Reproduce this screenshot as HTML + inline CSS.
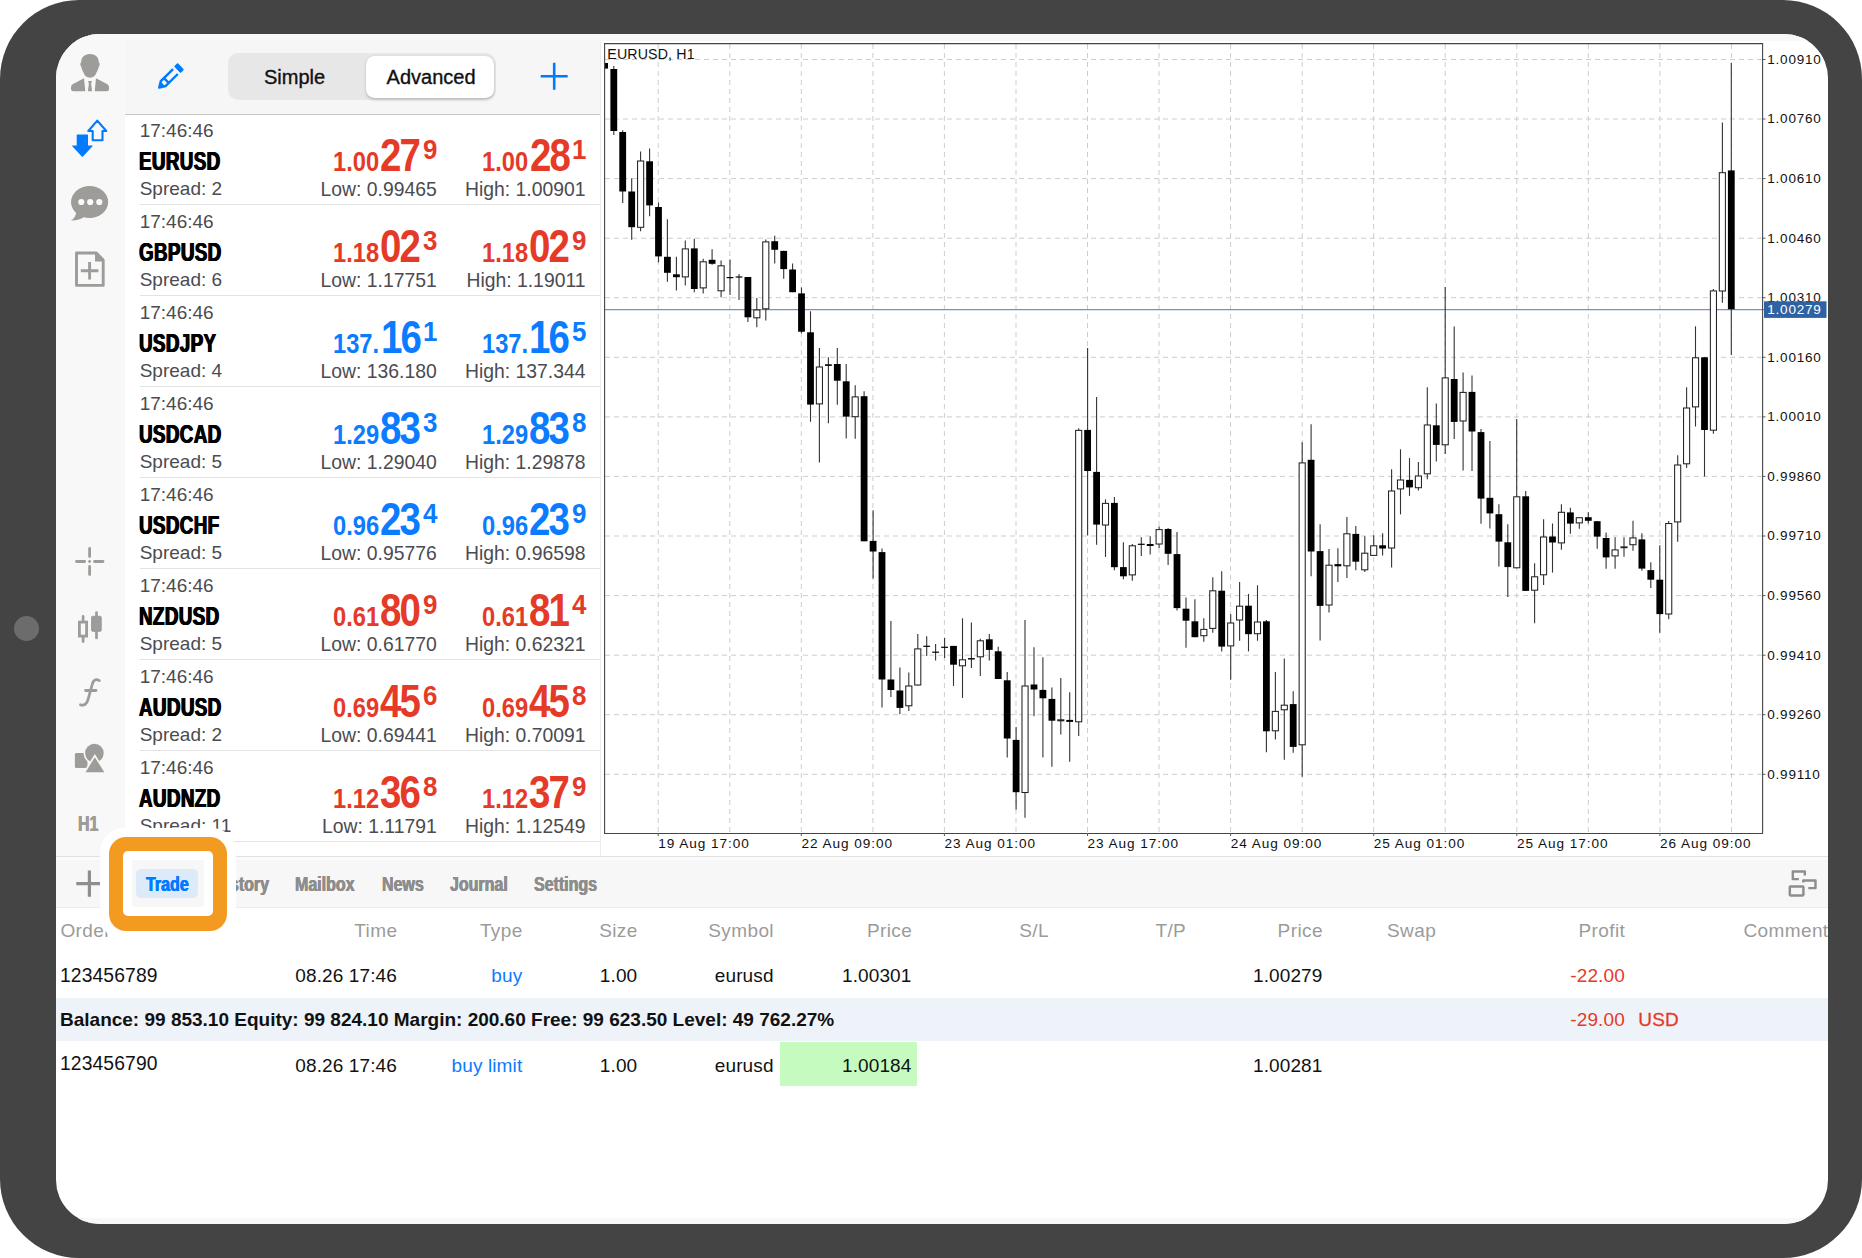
<!DOCTYPE html>
<html lang="en"><head><meta charset="utf-8"><title>MetaTrader 4 - Trade tab</title>
<style>
html,body{margin:0;padding:0;background:#fff;}
body{width:1862px;height:1258px;position:relative;overflow:hidden;font-family:"Liberation Sans",sans-serif;}
.abs{position:absolute;}
#device{position:absolute;left:0;top:0;width:1862px;height:1258px;background:#444;border-radius:79px;}
#cam{position:absolute;left:13.9px;top:615.9px;width:25.6px;height:25.6px;border-radius:50%;background:#6c6c6c;}
#screenbg{position:absolute;left:56px;top:34px;width:1772px;height:1190px;border-radius:44px;background:#fff;}
#screen{position:absolute;left:0;top:0;width:1862px;height:1258px;clip-path:inset(34px 34px 34px 56px round 44px);}
#topstrip{position:absolute;left:56px;top:34px;width:1772px;height:6.6px;background:#f8f8f8;}
#botstrip{position:absolute;left:56px;top:1217.5px;width:1772px;height:7px;background:#f8f8f8;}
#sidebar{position:absolute;left:56px;top:34px;width:69.4px;height:822.3px;background:#f8f8f8;}
#qhead{position:absolute;left:125.4px;top:40px;width:475.6px;height:74.3px;background:#f6f6f6;border-bottom:1px solid #c8c8c8;}
#qborder{position:absolute;left:600.2px;top:40.6px;width:1px;height:816px;background:#ececec;}
#quotes{position:absolute;left:125.4px;top:115px;width:474.8px;height:741.5px;overflow:hidden;background:#fff;}
.qrow{position:absolute;left:0;width:475.6px;height:91px;}
.qrow div{position:absolute;white-space:nowrap;line-height:1;}
.qt,.qsp,.ql{font-size:19px;color:#4b4b50;}
.ql{font-size:19.35px;}
.qt{left:14.3px;top:5.9px;}
.qs{left:13.7px;top:33.7px;letter-spacing:0.5px;font-size:25.4px;font-weight:bold;color:#000;}
.qs i{text-shadow:0.8px 0 0 #000,-0.8px 0 0 #000;}
.qsp{left:14.3px;top:64.4px;}
.ql.low{right:164.3px;top:64.7px;}
.ql.high{right:15.5px;top:64.7px;}
.qsep{left:14.3px;right:0;top:88.7px;height:1px;background:#e3e3e3;}
.cw{display:inline-block;position:relative;height:1em;vertical-align:top;}
.cw>i{position:absolute;left:0;top:0;font-style:normal;transform-origin:0 50%;white-space:nowrap;line-height:1;}
.red{color:#e53a28;} .blu{color:#0b7bff;}
.pp{font-weight:bold;}
#seg{position:absolute;left:228.4px;top:53.2px;width:268px;height:47.3px;border-radius:10px;background:#e7e7e8;}
#segsel{position:absolute;left:137.2px;top:2.6px;width:128.2px;height:42.1px;border-radius:8.5px;background:#fff;box-shadow:0 1.5px 3px rgba(0,0,0,.18),0 0 1px rgba(0,0,0,.1);}
#segl1,#segl2{position:absolute;top:13.9px;font-size:20px;line-height:1;color:#111;-webkit-text-stroke:0.35px #111;white-space:nowrap;}
#segl1{left:35.6px;}
#segl2{left:158.2px;}
#tb1{position:absolute;left:56px;top:856.3px;width:1772px;height:1px;background:#e1e1e1;}
#tb2{position:absolute;left:56px;top:857.3px;width:1772px;height:3px;background:#fbfbfb;}
#toolbar{position:absolute;left:56px;top:860.2px;width:1772px;height:47.2px;background:#f7f7f7;border-bottom:1px solid #ededed;}
.tab{position:absolute;top:874.9px;font-size:19.5px;font-weight:bold;color:#8d8d8d;text-shadow:0.45px 0 0 #8d8d8d,-0.45px 0 0 #8d8d8d;line-height:1;white-space:nowrap;}
#pill{position:absolute;left:136.1px;top:868.8px;width:62.2px;height:29.1px;border-radius:5px;background:#ddeafa;}
.th{position:absolute;top:921.4px;font-size:19px;line-height:1;color:#9b9b9b;white-space:nowrap;letter-spacing:0.4px;margin-left:0.4px;}
.td{position:absolute;font-size:19px;line-height:1;color:#111;white-space:nowrap;letter-spacing:0.12px;}
.r{transform:translateX(-100%);}
#balrow{position:absolute;left:56px;top:997.7px;width:1772px;height:43.5px;background:#eef3f9;}
#green{position:absolute;left:780px;top:1042.3px;width:137.3px;height:43.7px;background:#c5fbbf;}
#glow{position:absolute;left:99.8px;top:827.8px;width:136.6px;height:112.5px;border-radius:24px;background:#fff;}
#orange{position:absolute;left:108.6px;top:836.6px;width:118.9px;height:94.6px;border-radius:17px;background:#f39a21;}
#owhite{position:absolute;left:123.4px;top:851.4px;width:89.3px;height:64.9px;border-radius:5px;background:#fff;}
#owin{position:absolute;left:132.1px;top:860.2px;width:71.8px;height:47.3px;background:#f7f7f7;}

</style></head>
<body>
<div id="device"></div>
<div id="cam"></div>
<div id="screenbg"></div>
<div id="screen">
<div id="topstrip"></div>
<div id="sidebar"></div>
<div id="qhead"></div><div id="qborder"></div>
<div id="quotes">
<div class="qrow" style="top:0px"><div class="qt">17:46:46</div><div class="qs"><span class="cw" style="width:79.37px;font-size:25.4px;"><i style="transform:scaleX(0.74)">EURUSD</i></span></div><div class="qsp">Spread: 2</div><div class="pp red" style="left:297.47px;top:20.58px;font-size:27.9px;width:14.43px;height:27.9px"><i style="position:absolute;left:0;top:0;font-style:normal;transform-origin:0 50%;transform:scaleX(0.93);line-height:1;">9</i></div><div class="pp red" style="left:254.56px;top:18.13px;font-size:45.8px;width:42.79px;height:45.8px"><i style="position:absolute;left:0;top:0;font-style:normal;transform-origin:0 50%;transform:scaleX(0.84);line-height:1;letter-spacing:-2.3px;">27</i></div><div class="pp red" style="left:207.50px;top:32.98px;font-size:27.9px;width:46.16px;height:27.9px"><i style="position:absolute;left:0;top:0;font-style:normal;transform-origin:0 50%;transform:scaleX(0.85);line-height:1;">1.00</i></div><div class="pp red" style="left:446.17px;top:20.58px;font-size:27.9px;width:14.43px;height:27.9px"><i style="position:absolute;left:0;top:0;font-style:normal;transform-origin:0 50%;transform:scaleX(0.93);line-height:1;">1</i></div><div class="pp red" style="left:404.76px;top:18.13px;font-size:45.8px;width:42.79px;height:45.8px"><i style="position:absolute;left:0;top:0;font-style:normal;transform-origin:0 50%;transform:scaleX(0.84);line-height:1;letter-spacing:-2.3px;">28</i></div><div class="pp red" style="left:356.20px;top:32.98px;font-size:27.9px;width:46.16px;height:27.9px"><i style="position:absolute;left:0;top:0;font-style:normal;transform-origin:0 50%;transform:scaleX(0.85);line-height:1;">1.00</i></div><div class="ql low">Low: 0.99465</div><div class="ql high">High: 1.00901</div><div class="qsep"></div></div>
<div class="qrow" style="top:91px"><div class="qt">17:46:46</div><div class="qs"><span class="cw" style="width:80.42px;font-size:25.4px;"><i style="transform:scaleX(0.74)">GBPUSD</i></span></div><div class="qsp">Spread: 6</div><div class="pp red" style="left:297.47px;top:20.58px;font-size:27.9px;width:14.43px;height:27.9px"><i style="position:absolute;left:0;top:0;font-style:normal;transform-origin:0 50%;transform:scaleX(0.93);line-height:1;">3</i></div><div class="pp red" style="left:254.56px;top:18.13px;font-size:45.8px;width:42.79px;height:45.8px"><i style="position:absolute;left:0;top:0;font-style:normal;transform-origin:0 50%;transform:scaleX(0.84);line-height:1;letter-spacing:-2.3px;">02</i></div><div class="pp red" style="left:207.50px;top:32.98px;font-size:27.9px;width:46.16px;height:27.9px"><i style="position:absolute;left:0;top:0;font-style:normal;transform-origin:0 50%;transform:scaleX(0.85);line-height:1;">1.18</i></div><div class="pp red" style="left:446.17px;top:20.58px;font-size:27.9px;width:14.43px;height:27.9px"><i style="position:absolute;left:0;top:0;font-style:normal;transform-origin:0 50%;transform:scaleX(0.93);line-height:1;">9</i></div><div class="pp red" style="left:403.26px;top:18.13px;font-size:45.8px;width:42.79px;height:45.8px"><i style="position:absolute;left:0;top:0;font-style:normal;transform-origin:0 50%;transform:scaleX(0.84);line-height:1;letter-spacing:-2.3px;">02</i></div><div class="pp red" style="left:356.20px;top:32.98px;font-size:27.9px;width:46.16px;height:27.9px"><i style="position:absolute;left:0;top:0;font-style:normal;transform-origin:0 50%;transform:scaleX(0.85);line-height:1;">1.18</i></div><div class="ql low">Low: 1.17751</div><div class="ql high">High: 1.19011</div><div class="qsep"></div></div>
<div class="qrow" style="top:182px"><div class="qt">17:46:46</div><div class="qs"><span class="cw" style="width:75.21px;font-size:25.4px;"><i style="transform:scaleX(0.74)">USDJPY</i></span></div><div class="qsp">Spread: 4</div><div class="pp blu" style="left:297.47px;top:20.58px;font-size:27.9px;width:14.43px;height:27.9px"><i style="position:absolute;left:0;top:0;font-style:normal;transform-origin:0 50%;transform:scaleX(0.93);line-height:1;">1</i></div><div class="pp blu" style="left:256.06px;top:18.13px;font-size:45.8px;width:42.79px;height:45.8px"><i style="position:absolute;left:0;top:0;font-style:normal;transform-origin:0 50%;transform:scaleX(0.84);line-height:1;letter-spacing:-2.3px;">16</i></div><div class="pp blu" style="left:207.50px;top:32.98px;font-size:27.9px;width:46.16px;height:27.9px"><i style="position:absolute;left:0;top:0;font-style:normal;transform-origin:0 50%;transform:scaleX(0.85);line-height:1;">137.</i></div><div class="pp blu" style="left:446.17px;top:20.58px;font-size:27.9px;width:14.43px;height:27.9px"><i style="position:absolute;left:0;top:0;font-style:normal;transform-origin:0 50%;transform:scaleX(0.93);line-height:1;">5</i></div><div class="pp blu" style="left:403.26px;top:18.13px;font-size:45.8px;width:42.79px;height:45.8px"><i style="position:absolute;left:0;top:0;font-style:normal;transform-origin:0 50%;transform:scaleX(0.84);line-height:1;letter-spacing:-2.3px;">16</i></div><div class="pp blu" style="left:356.20px;top:32.98px;font-size:27.9px;width:46.16px;height:27.9px"><i style="position:absolute;left:0;top:0;font-style:normal;transform-origin:0 50%;transform:scaleX(0.85);line-height:1;">137.</i></div><div class="ql low">Low: 136.180</div><div class="ql high">High: 137.344</div><div class="qsep"></div></div>
<div class="qrow" style="top:273px"><div class="qt">17:46:46</div><div class="qs"><span class="cw" style="width:80.41px;font-size:25.4px;"><i style="transform:scaleX(0.74)">USDCAD</i></span></div><div class="qsp">Spread: 5</div><div class="pp blu" style="left:297.47px;top:20.58px;font-size:27.9px;width:14.43px;height:27.9px"><i style="position:absolute;left:0;top:0;font-style:normal;transform-origin:0 50%;transform:scaleX(0.93);line-height:1;">3</i></div><div class="pp blu" style="left:254.56px;top:18.13px;font-size:45.8px;width:42.79px;height:45.8px"><i style="position:absolute;left:0;top:0;font-style:normal;transform-origin:0 50%;transform:scaleX(0.84);line-height:1;letter-spacing:-2.3px;">83</i></div><div class="pp blu" style="left:207.50px;top:32.98px;font-size:27.9px;width:46.16px;height:27.9px"><i style="position:absolute;left:0;top:0;font-style:normal;transform-origin:0 50%;transform:scaleX(0.85);line-height:1;">1.29</i></div><div class="pp blu" style="left:446.17px;top:20.58px;font-size:27.9px;width:14.43px;height:27.9px"><i style="position:absolute;left:0;top:0;font-style:normal;transform-origin:0 50%;transform:scaleX(0.93);line-height:1;">8</i></div><div class="pp blu" style="left:403.26px;top:18.13px;font-size:45.8px;width:42.79px;height:45.8px"><i style="position:absolute;left:0;top:0;font-style:normal;transform-origin:0 50%;transform:scaleX(0.84);line-height:1;letter-spacing:-2.3px;">83</i></div><div class="pp blu" style="left:356.20px;top:32.98px;font-size:27.9px;width:46.16px;height:27.9px"><i style="position:absolute;left:0;top:0;font-style:normal;transform-origin:0 50%;transform:scaleX(0.85);line-height:1;">1.29</i></div><div class="ql low">Low: 1.29040</div><div class="ql high">High: 1.29878</div><div class="qsep"></div></div>
<div class="qrow" style="top:364px"><div class="qt">17:46:46</div><div class="qs"><span class="cw" style="width:78.31px;font-size:25.4px;"><i style="transform:scaleX(0.74)">USDCHF</i></span></div><div class="qsp">Spread: 5</div><div class="pp blu" style="left:297.47px;top:20.58px;font-size:27.9px;width:14.43px;height:27.9px"><i style="position:absolute;left:0;top:0;font-style:normal;transform-origin:0 50%;transform:scaleX(0.93);line-height:1;">4</i></div><div class="pp blu" style="left:254.56px;top:18.13px;font-size:45.8px;width:42.79px;height:45.8px"><i style="position:absolute;left:0;top:0;font-style:normal;transform-origin:0 50%;transform:scaleX(0.84);line-height:1;letter-spacing:-2.3px;">23</i></div><div class="pp blu" style="left:207.50px;top:32.98px;font-size:27.9px;width:46.16px;height:27.9px"><i style="position:absolute;left:0;top:0;font-style:normal;transform-origin:0 50%;transform:scaleX(0.85);line-height:1;">0.96</i></div><div class="pp blu" style="left:446.17px;top:20.58px;font-size:27.9px;width:14.43px;height:27.9px"><i style="position:absolute;left:0;top:0;font-style:normal;transform-origin:0 50%;transform:scaleX(0.93);line-height:1;">9</i></div><div class="pp blu" style="left:403.26px;top:18.13px;font-size:45.8px;width:42.79px;height:45.8px"><i style="position:absolute;left:0;top:0;font-style:normal;transform-origin:0 50%;transform:scaleX(0.84);line-height:1;letter-spacing:-2.3px;">23</i></div><div class="pp blu" style="left:356.20px;top:32.98px;font-size:27.9px;width:46.16px;height:27.9px"><i style="position:absolute;left:0;top:0;font-style:normal;transform-origin:0 50%;transform:scaleX(0.85);line-height:1;">0.96</i></div><div class="ql low">Low: 0.95776</div><div class="ql high">High: 0.96598</div><div class="qsep"></div></div>
<div class="qrow" style="top:455px"><div class="qt">17:46:46</div><div class="qs"><span class="cw" style="width:78.31px;font-size:25.4px;"><i style="transform:scaleX(0.74)">NZDUSD</i></span></div><div class="qsp">Spread: 5</div><div class="pp red" style="left:297.47px;top:20.58px;font-size:27.9px;width:14.43px;height:27.9px"><i style="position:absolute;left:0;top:0;font-style:normal;transform-origin:0 50%;transform:scaleX(0.93);line-height:1;">9</i></div><div class="pp red" style="left:254.56px;top:18.13px;font-size:45.8px;width:42.79px;height:45.8px"><i style="position:absolute;left:0;top:0;font-style:normal;transform-origin:0 50%;transform:scaleX(0.84);line-height:1;letter-spacing:-2.3px;">80</i></div><div class="pp red" style="left:207.50px;top:32.98px;font-size:27.9px;width:46.16px;height:27.9px"><i style="position:absolute;left:0;top:0;font-style:normal;transform-origin:0 50%;transform:scaleX(0.85);line-height:1;">0.61</i></div><div class="pp red" style="left:446.17px;top:20.58px;font-size:27.9px;width:14.43px;height:27.9px"><i style="position:absolute;left:0;top:0;font-style:normal;transform-origin:0 50%;transform:scaleX(0.93);line-height:1;">4</i></div><div class="pp red" style="left:403.26px;top:18.13px;font-size:45.8px;width:42.79px;height:45.8px"><i style="position:absolute;left:0;top:0;font-style:normal;transform-origin:0 50%;transform:scaleX(0.84);line-height:1;letter-spacing:-2.3px;">81</i></div><div class="pp red" style="left:356.20px;top:32.98px;font-size:27.9px;width:46.16px;height:27.9px"><i style="position:absolute;left:0;top:0;font-style:normal;transform-origin:0 50%;transform:scaleX(0.85);line-height:1;">0.61</i></div><div class="ql low">Low: 0.61770</div><div class="ql high">High: 0.62321</div><div class="qsep"></div></div>
<div class="qrow" style="top:546px"><div class="qt">17:46:46</div><div class="qs"><span class="cw" style="width:80.41px;font-size:25.4px;"><i style="transform:scaleX(0.74)">AUDUSD</i></span></div><div class="qsp">Spread: 2</div><div class="pp red" style="left:297.47px;top:20.58px;font-size:27.9px;width:14.43px;height:27.9px"><i style="position:absolute;left:0;top:0;font-style:normal;transform-origin:0 50%;transform:scaleX(0.93);line-height:1;">6</i></div><div class="pp red" style="left:254.56px;top:18.13px;font-size:45.8px;width:42.79px;height:45.8px"><i style="position:absolute;left:0;top:0;font-style:normal;transform-origin:0 50%;transform:scaleX(0.84);line-height:1;letter-spacing:-2.3px;">45</i></div><div class="pp red" style="left:207.50px;top:32.98px;font-size:27.9px;width:46.16px;height:27.9px"><i style="position:absolute;left:0;top:0;font-style:normal;transform-origin:0 50%;transform:scaleX(0.85);line-height:1;">0.69</i></div><div class="pp red" style="left:446.17px;top:20.58px;font-size:27.9px;width:14.43px;height:27.9px"><i style="position:absolute;left:0;top:0;font-style:normal;transform-origin:0 50%;transform:scaleX(0.93);line-height:1;">8</i></div><div class="pp red" style="left:403.26px;top:18.13px;font-size:45.8px;width:42.79px;height:45.8px"><i style="position:absolute;left:0;top:0;font-style:normal;transform-origin:0 50%;transform:scaleX(0.84);line-height:1;letter-spacing:-2.3px;">45</i></div><div class="pp red" style="left:356.20px;top:32.98px;font-size:27.9px;width:46.16px;height:27.9px"><i style="position:absolute;left:0;top:0;font-style:normal;transform-origin:0 50%;transform:scaleX(0.85);line-height:1;">0.69</i></div><div class="ql low">Low: 0.69441</div><div class="ql high">High: 0.70091</div><div class="qsep"></div></div>
<div class="qrow" style="top:637px"><div class="qt">17:46:46</div><div class="qs"><span class="cw" style="width:79.35px;font-size:25.4px;"><i style="transform:scaleX(0.74)">AUDNZD</i></span></div><div class="qsp">Spread: 11</div><div class="pp red" style="left:297.47px;top:20.58px;font-size:27.9px;width:14.43px;height:27.9px"><i style="position:absolute;left:0;top:0;font-style:normal;transform-origin:0 50%;transform:scaleX(0.93);line-height:1;">8</i></div><div class="pp red" style="left:254.56px;top:18.13px;font-size:45.8px;width:42.79px;height:45.8px"><i style="position:absolute;left:0;top:0;font-style:normal;transform-origin:0 50%;transform:scaleX(0.84);line-height:1;letter-spacing:-2.3px;">36</i></div><div class="pp red" style="left:207.50px;top:32.98px;font-size:27.9px;width:46.16px;height:27.9px"><i style="position:absolute;left:0;top:0;font-style:normal;transform-origin:0 50%;transform:scaleX(0.85);line-height:1;">1.12</i></div><div class="pp red" style="left:446.17px;top:20.58px;font-size:27.9px;width:14.43px;height:27.9px"><i style="position:absolute;left:0;top:0;font-style:normal;transform-origin:0 50%;transform:scaleX(0.93);line-height:1;">9</i></div><div class="pp red" style="left:403.26px;top:18.13px;font-size:45.8px;width:42.79px;height:45.8px"><i style="position:absolute;left:0;top:0;font-style:normal;transform-origin:0 50%;transform:scaleX(0.84);line-height:1;letter-spacing:-2.3px;">37</i></div><div class="pp red" style="left:356.20px;top:32.98px;font-size:27.9px;width:46.16px;height:27.9px"><i style="position:absolute;left:0;top:0;font-style:normal;transform-origin:0 50%;transform:scaleX(0.85);line-height:1;">1.12</i></div><div class="ql low">Low: 1.11791</div><div class="ql high">High: 1.12549</div><div class="qsep"></div></div>
</div>
<div id="seg"><div id="segsel"></div><div id="segl1">Simple</div><div id="segl2">Advanced</div></div>
<svg class="abs" style="left:0;top:0" width="1862" height="1258" viewBox="0 0 1862 1258">
<g stroke="#cdcdcd" stroke-width="1" stroke-dasharray="5 4" fill="none">
<path d="M605 59.5H1762"/>
<path d="M605 119.0H1762"/>
<path d="M605 178.6H1762"/>
<path d="M605 238.2H1762"/>
<path d="M605 297.7H1762"/>
<path d="M605 357.3H1762"/>
<path d="M605 416.9H1762"/>
<path d="M605 476.4H1762"/>
<path d="M605 536.0H1762"/>
<path d="M605 595.6H1762"/>
<path d="M605 655.2H1762"/>
<path d="M605 714.7H1762"/>
<path d="M605 774.3H1762"/>
<path d="M658.2 44V833"/>
<path d="M729.8 44V833"/>
<path d="M801.3 44V833"/>
<path d="M872.9 44V833"/>
<path d="M944.4 44V833"/>
<path d="M1016.0 44V833"/>
<path d="M1087.5 44V833"/>
<path d="M1159.0 44V833"/>
<path d="M1230.6 44V833"/>
<path d="M1302.2 44V833"/>
<path d="M1373.7 44V833"/>
<path d="M1445.2 44V833"/>
<path d="M1516.8 44V833"/>
<path d="M1588.3 44V833"/>
<path d="M1659.9 44V833"/>
<path d="M1731.5 44V833"/>
</g>
<path d="M605 309.6H1764" stroke="#6f95c4" stroke-width="1.2"/>
<g fill="#000">
<rect x="605" y="63" width="3" height="5.6"/>
<path d="M613.8 66.0V135.0" stroke="#333" stroke-width="1.1"/>
<rect x="610.4" y="69.0" width="6.8" height="62.0"/>
<path d="M622.7 130.3V203.0" stroke="#333" stroke-width="1.1"/>
<rect x="619.3" y="132.0" width="6.8" height="59.5"/>
<path d="M631.7 178.3V239.8" stroke="#333" stroke-width="1.1"/>
<rect x="628.3" y="191.5" width="6.8" height="35.7"/>
<path d="M640.6 151.5V231.2" stroke="#333" stroke-width="1.1"/>
<rect x="637.57" y="161.0" width="6.1" height="66.3" fill="#fff" stroke="#222" stroke-width="1.05"/>
<path d="M649.6 148.5V216.2" stroke="#333" stroke-width="1.1"/>
<rect x="646.2" y="161.3" width="6.8" height="44.1"/>
<path d="M658.5 202.4V262.4" stroke="#333" stroke-width="1.1"/>
<rect x="655.1" y="207.0" width="6.8" height="49.4"/>
<path d="M667.4 219.2V281.8" stroke="#333" stroke-width="1.1"/>
<rect x="664.0" y="256.8" width="6.8" height="16.0"/>
<path d="M676.4 256.8V290.5" stroke="#333" stroke-width="1.1"/>
<rect x="673.0" y="274.3" width="6.8" height="2.9"/>
<path d="M685.3 240.4V285.5" stroke="#333" stroke-width="1.1"/>
<rect x="682.27" y="248.9" width="6.1" height="28.0" fill="#fff" stroke="#222" stroke-width="1.05"/>
<path d="M694.3 238.8V292.3" stroke="#333" stroke-width="1.1"/>
<rect x="690.9" y="248.4" width="6.8" height="40.6"/>
<path d="M703.2 258.8V293.5" stroke="#333" stroke-width="1.1"/>
<rect x="700.15" y="261.8" width="6.1" height="26.1" fill="#fff" stroke="#222" stroke-width="1.05"/>
<path d="M712.1 249.2V264.8" stroke="#333" stroke-width="1.1"/>
<rect x="708.7" y="259.8" width="6.8" height="4.0"/>
<path d="M721.1 260.4V297.3" stroke="#333" stroke-width="1.1"/>
<rect x="718.03" y="265.8" width="6.1" height="25.0" fill="#fff" stroke="#222" stroke-width="1.05"/>
<path d="M730.0 259.5V295.0" stroke="#333" stroke-width="1.1"/>
<path d="M726.6 277.6H733.4" stroke="#000" stroke-width="1.2"/>
<path d="M739.0 273.9V300.0" stroke="#333" stroke-width="1.1"/>
<path d="M735.6 277.0H742.4" stroke="#000" stroke-width="1.2"/>
<path d="M747.9 277.0V322.0" stroke="#333" stroke-width="1.1"/>
<rect x="744.5" y="277.0" width="6.8" height="40.3"/>
<path d="M756.8 298.0V327.3" stroke="#333" stroke-width="1.1"/>
<rect x="753.79" y="310.0" width="6.1" height="7.8" fill="#fff" stroke="#222" stroke-width="1.05"/>
<path d="M765.8 239.6V320.5" stroke="#333" stroke-width="1.1"/>
<rect x="762.73" y="241.9" width="6.1" height="66.9" fill="#fff" stroke="#222" stroke-width="1.05"/>
<path d="M774.7 235.8V263.4" stroke="#333" stroke-width="1.1"/>
<rect x="771.3" y="241.2" width="6.8" height="8.6"/>
<path d="M783.7 250.8V278.7" stroke="#333" stroke-width="1.1"/>
<rect x="780.3" y="250.9" width="6.8" height="18.2"/>
<path d="M792.6 263.4V292.2" stroke="#333" stroke-width="1.1"/>
<rect x="789.2" y="269.5" width="6.8" height="22.7"/>
<path d="M801.5 287.4V333.3" stroke="#333" stroke-width="1.1"/>
<rect x="798.1" y="293.4" width="6.8" height="38.3"/>
<path d="M810.5 311.3V421.8" stroke="#333" stroke-width="1.1"/>
<rect x="807.1" y="332.3" width="6.8" height="72.3"/>
<path d="M819.4 347.9V462.5" stroke="#333" stroke-width="1.1"/>
<rect x="816.37" y="367.0" width="6.1" height="36.9" fill="#fff" stroke="#222" stroke-width="1.05"/>
<path d="M828.4 357.3V423.2" stroke="#333" stroke-width="1.1"/>
<rect x="825.0" y="364.3" width="6.8" height="1.6"/>
<path d="M837.3 347.9V404.8" stroke="#333" stroke-width="1.1"/>
<rect x="833.9" y="364.0" width="6.8" height="16.7"/>
<path d="M846.2 364.0V438.4" stroke="#333" stroke-width="1.1"/>
<rect x="842.8" y="381.3" width="6.8" height="35.3"/>
<path d="M855.2 385.3V438.8" stroke="#333" stroke-width="1.1"/>
<rect x="852.13" y="396.9" width="6.1" height="19.8" fill="#fff" stroke="#222" stroke-width="1.05"/>
<path d="M864.1 391.2V541.3" stroke="#333" stroke-width="1.1"/>
<rect x="860.7" y="396.2" width="6.8" height="145.1"/>
<path d="M873.1 510.3V578.5" stroke="#333" stroke-width="1.1"/>
<rect x="869.7" y="540.9" width="6.8" height="10.6"/>
<path d="M882.0 548.5V707.5" stroke="#333" stroke-width="1.1"/>
<rect x="878.6" y="552.1" width="6.8" height="127.4"/>
<path d="M890.9 621.1V696.9" stroke="#333" stroke-width="1.1"/>
<rect x="887.5" y="679.5" width="6.8" height="10.5"/>
<path d="M899.9 667.4V714.3" stroke="#333" stroke-width="1.1"/>
<rect x="896.5" y="690.5" width="6.8" height="17.4"/>
<path d="M908.8 672.6V710.9" stroke="#333" stroke-width="1.1"/>
<rect x="905.77" y="686.0" width="6.1" height="19.8" fill="#fff" stroke="#222" stroke-width="1.05"/>
<path d="M917.8 633.9V685.5" stroke="#333" stroke-width="1.1"/>
<rect x="914.71" y="648.9" width="6.1" height="36.1" fill="#fff" stroke="#222" stroke-width="1.05"/>
<path d="M926.7 636.2V655.9" stroke="#333" stroke-width="1.1"/>
<path d="M923.3 646.3H930.1" stroke="#000" stroke-width="1.2"/>
<path d="M935.6 644.1V660.6" stroke="#333" stroke-width="1.1"/>
<path d="M932.2 652.2H939.0" stroke="#000" stroke-width="1.2"/>
<path d="M944.6 637.7V657.9" stroke="#333" stroke-width="1.1"/>
<path d="M941.2 647.3H948.0" stroke="#000" stroke-width="1.2"/>
<path d="M953.5 645.9V685.9" stroke="#333" stroke-width="1.1"/>
<rect x="950.1" y="645.9" width="6.8" height="18.8"/>
<path d="M962.5 618.3V697.9" stroke="#333" stroke-width="1.1"/>
<rect x="959.41" y="659.8" width="6.1" height="6.0" fill="#fff" stroke="#222" stroke-width="1.05"/>
<path d="M971.4 622.5V667.9" stroke="#333" stroke-width="1.1"/>
<rect x="968.0" y="658.1" width="6.8" height="1.4"/>
<path d="M980.3 638.7V675.9" stroke="#333" stroke-width="1.1"/>
<rect x="977.29" y="640.8" width="6.1" height="16.0" fill="#fff" stroke="#222" stroke-width="1.05"/>
<path d="M989.3 633.9V660.5" stroke="#333" stroke-width="1.1"/>
<rect x="985.9" y="639.3" width="6.8" height="10.6"/>
<path d="M998.2 646.7V679.0" stroke="#333" stroke-width="1.1"/>
<rect x="994.8" y="651.3" width="6.8" height="27.7"/>
<path d="M1007.2 671.9V757.4" stroke="#333" stroke-width="1.1"/>
<rect x="1003.8" y="680.3" width="6.8" height="58.2"/>
<path d="M1016.1 726.9V809.4" stroke="#333" stroke-width="1.1"/>
<rect x="1012.7" y="739.9" width="6.8" height="52.3"/>
<path d="M1025.0 619.9V817.8" stroke="#333" stroke-width="1.1"/>
<rect x="1021.99" y="686.0" width="6.1" height="106.5" fill="#fff" stroke="#222" stroke-width="1.05"/>
<path d="M1034.0 647.3V716.3" stroke="#333" stroke-width="1.1"/>
<rect x="1030.6" y="684.5" width="6.8" height="5.0"/>
<path d="M1042.9 657.3V757.4" stroke="#333" stroke-width="1.1"/>
<rect x="1039.5" y="689.9" width="6.8" height="8.4"/>
<path d="M1051.9 687.6V766.8" stroke="#333" stroke-width="1.1"/>
<rect x="1048.5" y="698.9" width="6.8" height="21.8"/>
<path d="M1060.8 677.9V734.5" stroke="#333" stroke-width="1.1"/>
<rect x="1057.75" y="719.8" width="6.1" height="1.0" fill="#fff" stroke="#222" stroke-width="1.05"/>
<path d="M1069.7 692.3V761.8" stroke="#333" stroke-width="1.1"/>
<rect x="1066.3" y="719.9" width="6.8" height="2.0"/>
<path d="M1078.7 428.3V735.9" stroke="#333" stroke-width="1.1"/>
<rect x="1075.63" y="430.4" width="6.1" height="291.4" fill="#fff" stroke="#222" stroke-width="1.05"/>
<path d="M1087.6 348.0V535.5" stroke="#333" stroke-width="1.1"/>
<rect x="1084.2" y="429.9" width="6.8" height="41.1"/>
<path d="M1096.6 396.9V544.8" stroke="#333" stroke-width="1.1"/>
<rect x="1093.2" y="471.9" width="6.8" height="52.7"/>
<path d="M1105.5 499.3V556.9" stroke="#333" stroke-width="1.1"/>
<rect x="1102.45" y="503.4" width="6.1" height="21.6" fill="#fff" stroke="#222" stroke-width="1.05"/>
<path d="M1114.4 496.9V570.3" stroke="#333" stroke-width="1.1"/>
<rect x="1111.0" y="502.9" width="6.8" height="64.3"/>
<path d="M1123.4 542.3V579.3" stroke="#333" stroke-width="1.1"/>
<rect x="1120.0" y="567.1" width="6.8" height="9.2"/>
<path d="M1132.3 543.9V580.7" stroke="#333" stroke-width="1.1"/>
<rect x="1129.27" y="545.8" width="6.1" height="29.1" fill="#fff" stroke="#222" stroke-width="1.05"/>
<path d="M1141.3 537.3V555.9" stroke="#333" stroke-width="1.1"/>
<path d="M1137.9 544.3H1144.7" stroke="#000" stroke-width="1.2"/>
<path d="M1150.2 536.3V554.5" stroke="#333" stroke-width="1.1"/>
<rect x="1146.8" y="544.0" width="6.8" height="2.0"/>
<path d="M1159.1 526.6V547.9" stroke="#333" stroke-width="1.1"/>
<rect x="1156.09" y="529.6" width="6.1" height="14.4" fill="#fff" stroke="#222" stroke-width="1.05"/>
<path d="M1168.1 528.0V564.9" stroke="#333" stroke-width="1.1"/>
<rect x="1164.7" y="529.0" width="6.8" height="24.8"/>
<path d="M1177.0 531.9V610.5" stroke="#333" stroke-width="1.1"/>
<rect x="1173.6" y="554.1" width="6.8" height="54.0"/>
<path d="M1186.0 597.5V647.8" stroke="#333" stroke-width="1.1"/>
<rect x="1182.6" y="608.7" width="6.8" height="12.0"/>
<path d="M1194.9 599.3V637.2" stroke="#333" stroke-width="1.1"/>
<rect x="1191.5" y="621.3" width="6.8" height="15.9"/>
<path d="M1203.8 618.3V641.8" stroke="#333" stroke-width="1.1"/>
<rect x="1200.79" y="629.4" width="6.1" height="6.3" fill="#fff" stroke="#222" stroke-width="1.05"/>
<path d="M1212.8 577.3V632.8" stroke="#333" stroke-width="1.1"/>
<rect x="1209.73" y="590.8" width="6.1" height="37.6" fill="#fff" stroke="#222" stroke-width="1.05"/>
<path d="M1221.7 571.3V651.4" stroke="#333" stroke-width="1.1"/>
<rect x="1218.3" y="590.7" width="6.8" height="55.9"/>
<path d="M1230.7 614.3V679.8" stroke="#333" stroke-width="1.1"/>
<rect x="1227.61" y="623.0" width="6.1" height="22.9" fill="#fff" stroke="#222" stroke-width="1.05"/>
<path d="M1239.6 581.9V640.8" stroke="#333" stroke-width="1.1"/>
<rect x="1236.55" y="606.2" width="6.1" height="13.8" fill="#fff" stroke="#222" stroke-width="1.05"/>
<path d="M1248.5 593.9V651.4" stroke="#333" stroke-width="1.1"/>
<rect x="1245.1" y="605.7" width="6.8" height="28.5"/>
<path d="M1257.5 585.3V640.8" stroke="#333" stroke-width="1.1"/>
<rect x="1254.43" y="622.0" width="6.1" height="11.7" fill="#fff" stroke="#222" stroke-width="1.05"/>
<path d="M1266.4 619.9V752.2" stroke="#333" stroke-width="1.1"/>
<rect x="1263.0" y="621.3" width="6.8" height="110.0"/>
<path d="M1275.4 672.0V739.5" stroke="#333" stroke-width="1.1"/>
<rect x="1272.31" y="711.4" width="6.1" height="19.4" fill="#fff" stroke="#222" stroke-width="1.05"/>
<path d="M1284.3 658.5V759.8" stroke="#333" stroke-width="1.1"/>
<rect x="1281.25" y="705.2" width="6.1" height="4.6" fill="#fff" stroke="#222" stroke-width="1.05"/>
<path d="M1293.2 691.3V752.8" stroke="#333" stroke-width="1.1"/>
<rect x="1289.8" y="704.1" width="6.8" height="42.8"/>
<path d="M1302.2 442.3V776.8" stroke="#333" stroke-width="1.1"/>
<rect x="1299.13" y="462.9" width="6.1" height="281.9" fill="#fff" stroke="#222" stroke-width="1.05"/>
<path d="M1311.1 424.3V576.3" stroke="#333" stroke-width="1.1"/>
<rect x="1307.7" y="459.8" width="6.8" height="91.7"/>
<path d="M1320.1 524.3V640.5" stroke="#333" stroke-width="1.1"/>
<rect x="1316.7" y="551.1" width="6.8" height="54.8"/>
<path d="M1329.0 548.9V612.5" stroke="#333" stroke-width="1.1"/>
<rect x="1325.95" y="565.2" width="6.1" height="39.8" fill="#fff" stroke="#222" stroke-width="1.05"/>
<path d="M1337.9 548.3V581.9" stroke="#333" stroke-width="1.1"/>
<rect x="1334.5" y="564.1" width="6.8" height="2.2"/>
<path d="M1346.9 517.1V577.9" stroke="#333" stroke-width="1.1"/>
<rect x="1343.83" y="533.8" width="6.1" height="32.0" fill="#fff" stroke="#222" stroke-width="1.05"/>
<path d="M1355.8 525.9V570.3" stroke="#333" stroke-width="1.1"/>
<rect x="1352.4" y="533.9" width="6.8" height="27.8"/>
<path d="M1364.8 536.3V571.9" stroke="#333" stroke-width="1.1"/>
<rect x="1361.71" y="553.2" width="6.1" height="16.6" fill="#fff" stroke="#222" stroke-width="1.05"/>
<path d="M1373.7 535.3V555.9" stroke="#333" stroke-width="1.1"/>
<rect x="1370.65" y="545.8" width="6.1" height="9.6" fill="#fff" stroke="#222" stroke-width="1.05"/>
<path d="M1382.6 533.3V555.5" stroke="#333" stroke-width="1.1"/>
<rect x="1379.2" y="545.3" width="6.8" height="3.2"/>
<path d="M1391.6 469.3V567.6" stroke="#333" stroke-width="1.1"/>
<rect x="1388.53" y="491.0" width="6.1" height="57.0" fill="#fff" stroke="#222" stroke-width="1.05"/>
<path d="M1400.5 449.3V514.4" stroke="#333" stroke-width="1.1"/>
<rect x="1397.47" y="480.0" width="6.1" height="8.9" fill="#fff" stroke="#222" stroke-width="1.05"/>
<path d="M1409.5 458.1V495.9" stroke="#333" stroke-width="1.1"/>
<rect x="1406.1" y="479.9" width="6.8" height="7.5"/>
<path d="M1418.4 461.9V490.5" stroke="#333" stroke-width="1.1"/>
<rect x="1415.35" y="476.0" width="6.1" height="11.7" fill="#fff" stroke="#222" stroke-width="1.05"/>
<path d="M1427.3 387.3V479.3" stroke="#333" stroke-width="1.1"/>
<rect x="1424.29" y="425.0" width="6.1" height="48.8" fill="#fff" stroke="#222" stroke-width="1.05"/>
<path d="M1436.3 403.5V461.5" stroke="#333" stroke-width="1.1"/>
<rect x="1432.9" y="425.3" width="6.8" height="19.6"/>
<path d="M1445.2 287.1V453.9" stroke="#333" stroke-width="1.1"/>
<rect x="1442.17" y="377.9" width="6.1" height="66.9" fill="#fff" stroke="#222" stroke-width="1.05"/>
<path d="M1454.2 326.6V438.9" stroke="#333" stroke-width="1.1"/>
<rect x="1450.8" y="379.0" width="6.8" height="42.9"/>
<path d="M1463.1 372.4V470.5" stroke="#333" stroke-width="1.1"/>
<rect x="1460.05" y="392.4" width="6.1" height="28.6" fill="#fff" stroke="#222" stroke-width="1.05"/>
<path d="M1472.0 375.4V470.9" stroke="#333" stroke-width="1.1"/>
<rect x="1468.6" y="391.9" width="6.8" height="39.6"/>
<path d="M1481.0 428.9V523.8" stroke="#333" stroke-width="1.1"/>
<rect x="1477.6" y="432.1" width="6.8" height="66.5"/>
<path d="M1489.9 440.9V528.4" stroke="#333" stroke-width="1.1"/>
<rect x="1486.5" y="497.8" width="6.8" height="15.6"/>
<path d="M1498.9 504.2V566.4" stroke="#333" stroke-width="1.1"/>
<rect x="1495.5" y="514.2" width="6.8" height="27.4"/>
<path d="M1507.8 524.3V596.9" stroke="#333" stroke-width="1.1"/>
<rect x="1504.4" y="542.3" width="6.8" height="24.8"/>
<path d="M1516.7 418.9V568.3" stroke="#333" stroke-width="1.1"/>
<rect x="1513.69" y="496.8" width="6.1" height="71.0" fill="#fff" stroke="#222" stroke-width="1.05"/>
<path d="M1525.7 490.9V590.9" stroke="#333" stroke-width="1.1"/>
<rect x="1522.3" y="496.3" width="6.8" height="94.6"/>
<path d="M1534.6 563.3V623.3" stroke="#333" stroke-width="1.1"/>
<rect x="1531.57" y="576.8" width="6.1" height="13.4" fill="#fff" stroke="#222" stroke-width="1.05"/>
<path d="M1543.6 519.3V584.9" stroke="#333" stroke-width="1.1"/>
<rect x="1540.51" y="537.0" width="6.1" height="37.8" fill="#fff" stroke="#222" stroke-width="1.05"/>
<path d="M1552.5 523.5V572.6" stroke="#333" stroke-width="1.1"/>
<rect x="1549.1" y="536.5" width="6.8" height="6.0"/>
<path d="M1561.4 504.2V549.8" stroke="#333" stroke-width="1.1"/>
<rect x="1558.39" y="512.3" width="6.1" height="30.6" fill="#fff" stroke="#222" stroke-width="1.05"/>
<path d="M1570.4 507.8V533.8" stroke="#333" stroke-width="1.1"/>
<rect x="1567.0" y="512.4" width="6.8" height="11.2"/>
<path d="M1579.3 517.2V528.8" stroke="#333" stroke-width="1.1"/>
<rect x="1576.27" y="517.7" width="6.1" height="5.2" fill="#fff" stroke="#222" stroke-width="1.05"/>
<path d="M1588.3 512.2V523.4" stroke="#333" stroke-width="1.1"/>
<rect x="1584.9" y="517.2" width="6.8" height="3.6"/>
<path d="M1597.2 521.2V548.8" stroke="#333" stroke-width="1.1"/>
<rect x="1593.8" y="521.2" width="6.8" height="15.4"/>
<path d="M1606.1 532.4V568.8" stroke="#333" stroke-width="1.1"/>
<rect x="1602.7" y="538.0" width="6.8" height="19.4"/>
<path d="M1615.1 537.2V568.8" stroke="#333" stroke-width="1.1"/>
<rect x="1612.03" y="549.9" width="6.1" height="6.0" fill="#fff" stroke="#222" stroke-width="1.05"/>
<path d="M1624.0 537.2V556.8" stroke="#333" stroke-width="1.1"/>
<rect x="1620.97" y="546.9" width="6.1" height="0.8" fill="#fff" stroke="#222" stroke-width="1.05"/>
<path d="M1633.0 520.8V550.8" stroke="#333" stroke-width="1.1"/>
<rect x="1629.91" y="537.9" width="6.1" height="6.8" fill="#fff" stroke="#222" stroke-width="1.05"/>
<path d="M1641.9 533.2V570.8" stroke="#333" stroke-width="1.1"/>
<rect x="1638.5" y="539.4" width="6.8" height="29.2"/>
<path d="M1650.8 562.3V587.9" stroke="#333" stroke-width="1.1"/>
<rect x="1647.4" y="570.1" width="6.8" height="9.6"/>
<path d="M1659.8 545.3V632.8" stroke="#333" stroke-width="1.1"/>
<rect x="1656.4" y="579.7" width="6.8" height="34.4"/>
<path d="M1668.7 521.0V619.3" stroke="#333" stroke-width="1.1"/>
<rect x="1665.67" y="523.5" width="6.1" height="90.5" fill="#fff" stroke="#222" stroke-width="1.05"/>
<path d="M1677.7 455.3V541.8" stroke="#333" stroke-width="1.1"/>
<rect x="1674.61" y="465.0" width="6.1" height="56.9" fill="#fff" stroke="#222" stroke-width="1.05"/>
<path d="M1686.6 387.2V467.9" stroke="#333" stroke-width="1.1"/>
<rect x="1683.55" y="408.0" width="6.1" height="55.8" fill="#fff" stroke="#222" stroke-width="1.05"/>
<path d="M1695.5 326.3V426.5" stroke="#333" stroke-width="1.1"/>
<rect x="1692.49" y="357.8" width="6.1" height="49.1" fill="#fff" stroke="#222" stroke-width="1.05"/>
<path d="M1704.5 357.0V476.5" stroke="#333" stroke-width="1.1"/>
<rect x="1701.1" y="357.3" width="6.8" height="72.7"/>
<path d="M1713.4 289.1V433.8" stroke="#333" stroke-width="1.1"/>
<rect x="1710.37" y="290.9" width="6.1" height="139.3" fill="#fff" stroke="#222" stroke-width="1.05"/>
<path d="M1722.4 122.6V302.7" stroke="#333" stroke-width="1.1"/>
<rect x="1719.31" y="172.7" width="6.1" height="118.3" fill="#fff" stroke="#222" stroke-width="1.05"/>
<path d="M1731.3 63.0V354.9" stroke="#333" stroke-width="1.1"/>
<rect x="1727.9" y="170.4" width="6.8" height="138.8"/>
</g>
<path d="M604.6 833.5V43.6H1762.6V833.5Z" fill="none" stroke="#454545" stroke-width="1.1"/>
<g stroke="#5a5a5a" stroke-width="1">
<path d="M1763 59.5H1765.5"/>
<path d="M1763 119.0H1765.5"/>
<path d="M1763 178.6H1765.5"/>
<path d="M1763 238.2H1765.5"/>
<path d="M1763 297.7H1765.5"/>
<path d="M1763 357.3H1765.5"/>
<path d="M1763 416.9H1765.5"/>
<path d="M1763 476.4H1765.5"/>
<path d="M1763 536.0H1765.5"/>
<path d="M1763 595.6H1765.5"/>
<path d="M1763 655.2H1765.5"/>
<path d="M1763 714.7H1765.5"/>
<path d="M1763 774.3H1765.5"/>
<path d="M658.2 833V836"/>
<path d="M801.3 833V836"/>
<path d="M944.4 833V836"/>
<path d="M1087.5 833V836"/>
<path d="M1230.6 833V836"/>
<path d="M1373.7 833V836"/>
<path d="M1516.8 833V836"/>
<path d="M1659.9 833V836"/>
</g>
<g font-family="Liberation Sans, sans-serif" font-size="13.5" fill="#111" letter-spacing="0.78">
<text x="1767.3" y="63.9">1.00910</text>
<text x="1767.3" y="123.4">1.00760</text>
<text x="1767.3" y="183.0">1.00610</text>
<text x="1767.3" y="242.6">1.00460</text>
<text x="1767.3" y="302.1">1.00310</text>
<text x="1767.3" y="361.7">1.00160</text>
<text x="1767.3" y="421.3">1.00010</text>
<text x="1767.3" y="480.8">0.99860</text>
<text x="1767.3" y="540.4">0.99710</text>
<text x="1767.3" y="600.0">0.99560</text>
<text x="1767.3" y="659.6">0.99410</text>
<text x="1767.3" y="719.1">0.99260</text>
<text x="1767.3" y="778.7">0.99110</text>
</g>
<g font-family="Liberation Sans, sans-serif" font-size="13.6" fill="#111" letter-spacing="0.95">
<text x="658.3" y="848">19 Aug 17:00</text>
<text x="801.4" y="848">22 Aug 09:00</text>
<text x="944.5" y="848">23 Aug 01:00</text>
<text x="1087.6" y="848">23 Aug 17:00</text>
<text x="1230.7" y="848">24 Aug 09:00</text>
<text x="1373.8" y="848">25 Aug 01:00</text>
<text x="1516.9" y="848">25 Aug 17:00</text>
<text x="1660.0" y="848">26 Aug 09:00</text>
</g>
<text x="607.3" y="59" font-family="Liberation Sans, sans-serif" font-size="14.2" letter-spacing="0.15" fill="#111">EURUSD, H1</text>
<rect x="1764" y="301.3" width="62.5" height="16.6" fill="#2f62a3"/>
<text x="1767.3" y="314" font-family="Liberation Sans, sans-serif" font-size="13.5" fill="#fff" letter-spacing="0.78">1.00279</text>
</svg>
<svg class="abs" style="left:0;top:0" width="700" height="1258" viewBox="0 0 700 1258">
<!-- account -->
<g fill="#9d9c99">
<path d="M90 54C96 54 98.9 58 98.9 62.6C99.9 62.8 100 65.5 98.7 67C98.2 69.5 97.4 71 96.6 72.3C95.6 75.5 93.4 77.8 90 77.8C86.6 77.8 84.4 75.5 83.4 72.3C82.6 71 81.8 69.5 81.3 67C80 65.5 80.1 62.8 81.1 62.6C81.1 58 84 54 90 54Z"/>
<path d="M73.5 91.2Q71 91.2 71 88.7V87.3Q71 84.6 74 83.4L84 78.2L85.3 91.2Z"/>
<path d="M106.5 91.2Q109 91.2 109 88.7V87.3Q109 84.6 106 83.4L96 78.2L94.7 91.2Z"/>
<path d="M88 80.9H92L91.1 83.6L92.1 91.2H87.9L88.9 83.6Z"/>
</g>
<!-- trade arrows -->
<path d="M97.3 120.6L106.3 131H102.5V140.3H92.7V131H88.3Z" fill="none" stroke="#007aff" stroke-width="2.1" stroke-linejoin="round"/>
<path d="M77.2 134.6H87.5Q88 134.6 88 135.1V145.4H92.2Q93.2 145.4 92.5 146.2L83 156.4Q82.4 157 81.8 156.4L72.3 146.2Q71.6 145.4 72.6 145.4H76.7V135.1Q76.7 134.6 77.2 134.6Z" fill="#007aff"/>
<!-- chat -->
<g fill="#9d9c99">
<ellipse cx="89.6" cy="202" rx="18.6" ry="16"/>
<path d="M76.5 210Q76.5 217.5 70.8 220.6Q80 220.8 86 215.5Z"/>
</g>
<g fill="#fafafa"><circle cx="81.3" cy="202" r="3.1"/><circle cx="90.2" cy="202" r="3.1"/><circle cx="99.3" cy="202" r="3.1"/></g>
<!-- new order doc -->
<g fill="none" stroke="#9d9c99" stroke-width="2.9" stroke-linejoin="round">
<path d="M76.5 253H96.3L103.2 260V285.4H76.5Z"/>
<path d="M89.6 262V279.6M80.8 270.8H98.4" stroke-linejoin="miter"/>
</g>
<path d="M95 252.5L104.2 261.5H95Z" fill="#9d9c99"/>
<!-- crosshair -->
<g stroke="#9d9c99" stroke-width="2.8" stroke-linecap="round" fill="none">
<path d="M89.6 548.4V556.6M89.6 566.4V574.6M76.5 561.5H84.7M94.5 561.5H103"/>
</g>
<circle cx="89.6" cy="561.5" r="1.4" fill="#9d9c99"/>
<!-- candles icon -->
<g stroke="#9d9c99" fill="none">
<path d="M83.1 616.3V621M83.1 637.5V641.6M96.5 612.5V616M96.5 631.5V638" stroke-width="2.7" stroke-linecap="round"/>
<rect x="79.4" y="622.1" width="7.2" height="14" stroke-width="2.8"/>
<rect x="91.6" y="616.3" width="9.6" height="15" rx="1" fill="#9d9c99" stroke-width="1"/>
</g>
<!-- f -->
<g stroke="#9d9c99" stroke-width="2.8" stroke-linecap="round" fill="none">
<path d="M99.3 680.6C96 678.5 93.3 680 92.2 684.5L88.2 699C87 703.8 84.5 706 80.5 704.8"/>
<path d="M85.6 690.5H96"/>
</g>
<!-- shapes -->
<g fill="#9d9c99">
<rect x="74.9" y="753" width="12.6" height="15" rx="1.5"/>
<circle cx="94.4" cy="753.1" r="10.8" fill="#f8f8f8"/>
<circle cx="94.4" cy="753.1" r="9.3"/>
<path d="M94.8 754L106.8 773.3H82.8Z" fill="#f8f8f8"/>
<path d="M94.8 757.2L104.4 772.2H85.6Z"/>
</g>
<!-- pencil -->
<g transform="translate(158.3 88.4) rotate(-44.5)">
<path d="M24 -3.4H6.8L1.3 0L6.8 3.4H24M11.3 -3.4V3.4" fill="none" stroke="#007aff" stroke-width="2.4" stroke-linejoin="round"/>
<path d="M0.3 0L6.4 -3V3Z" fill="#007aff"/>
<rect x="26.6" y="-4.6" width="5" height="9.2" rx="0.9" fill="#007aff"/>
</g>
<!-- plus -->
<path d="M554.2 62.8V89.8M540.7 76.3H567.7" stroke="#007aff" stroke-width="2.6" fill="none"/>
</svg>

<div class="abs" style="left:77.7px;top:813.1px;font-size:22.2px;font-weight:bold;color:#9d9c99;line-height:1;text-shadow:0.3px 0 0 #9d9c99,-0.3px 0 0 #9d9c99"><span class="cw" style="width:20.43px;font-size:22.2px;"><i style="transform:scaleX(0.72)">H1</i></span></div>
<div id="tb1"></div><div id="tb2"></div><div id="toolbar"></div>
<svg class="abs" style="left:70px;top:866px" width="40" height="36" viewBox="70 866 40 36"><path d="M89.4 870.6V896.8M76.3 883.7H102.5" stroke="#8e8e8e" stroke-width="3.2" fill="none"/></svg>
<div class="tab" style="left:213.6px"><span class="cw" style="width:55.09px;font-size:19.5px;"><i style="transform:scaleX(0.82)">History</i></span></div>
<div class="tab" style="left:295.2px"><span class="cw" style="width:59.53px;font-size:19.5px;"><i style="transform:scaleX(0.82)">Mailbox</i></span></div>
<div class="tab" style="left:382.2px"><span class="cw" style="width:41.77px;font-size:19.5px;"><i style="transform:scaleX(0.82)">News</i></span></div>
<div class="tab" style="left:449.9px"><span class="cw" style="width:57.75px;font-size:19.5px;"><i style="transform:scaleX(0.82)">Journal</i></span></div>
<div class="tab" style="left:534.1px"><span class="cw" style="width:63.08px;font-size:19.5px;"><i style="transform:scaleX(0.82)">Settings</i></span></div>
<svg class="abs" style="left:1780px;top:862px" width="48" height="44" viewBox="1780 862 48 44"><g fill="none" stroke="#8e8e8e" stroke-width="2.45" stroke-linejoin="round"><path d="M1798.9 879.1H1792.8V871.4H1804.8V875.6"/><path d="M1803.3 882.6V880.4H1815.5V888.1H1808.3"/><rect x="1789.8" y="886.5" width="13.6" height="8.9" rx="0.6"/></g></svg>
<div class="th" style="left:60px">Order</div>
<div class="th r" style="left:397px">Time</div>
<div class="th r" style="left:522.3px">Type</div>
<div class="th r" style="left:637.3px">Size</div>
<div class="th r" style="left:773.6px">Symbol</div>
<div class="th r" style="left:911.8px">Price</div>
<div class="th r" style="left:1048.5px">S/L</div>
<div class="th r" style="left:1185.8px">T/P</div>
<div class="th r" style="left:1322.5px">Price</div>
<div class="th r" style="left:1435.8px">Swap</div>
<div class="th r" style="left:1624.9px">Profit</div>
<div class="th" style="left:1743px">Comment</div>
<div class="td" style="left:60px;top:966.0px;font-size:19.3px">123456789</div>
<div class="td r" style="left:397px;top:966.2px">08.26 17:46</div>
<div class="td r" style="left:522.3px;top:966.2px;color:#0b7bff">buy</div>
<div class="td r" style="left:637.3px;top:966.2px">1.00</div>
<div class="td r" style="left:773.6px;top:966.2px">eurusd</div>
<div class="td r" style="left:911.5px;top:966.2px">1.00301</div>
<div class="td r" style="left:1322.5px;top:966.2px">1.00279</div>
<div class="td r" style="left:1624.9px;top:966.2px;color:#e53a28">-22.00</div>
<div id="balrow"></div>
<div class="td" style="left:60px;top:1009.9px;font-weight:bold;color:#111;letter-spacing:0">Balance: 99 853.10 Equity: 99 824.10 Margin: 200.60 Free: 99 623.50 Level: 49 762.27%</div>
<div class="td r" style="left:1624.9px;top:1009.9px;color:#e53a28">-29.00</div>
<div class="td" style="left:1638.3px;top:1009.9px;color:#e53a28;-webkit-text-stroke:0.3px #e53a28">USD</div>
<div id="green"></div>
<div class="td" style="left:60px;top:1054.4px;font-size:19.3px">123456790</div>
<div class="td r" style="left:397px;top:1055.6px">08.26 17:46</div>
<div class="td r" style="left:522.3px;top:1055.6px;color:#0b7bff">buy limit</div>
<div class="td r" style="left:637.3px;top:1055.6px">1.00</div>
<div class="td r" style="left:773.6px;top:1055.6px">eurusd</div>
<div class="td r" style="left:911.5px;top:1055.6px">1.00184</div>
<div class="td r" style="left:1322.5px;top:1055.6px">1.00281</div>
<div id="botstrip"></div>
<div id="glow"></div><div id="orange"></div><div id="owhite"></div><div id="owin"></div><div id="pill"></div>
<div class="tab" style="left:145.5px;color:#007aff;text-shadow:0.45px 0 0 #007aff,-0.45px 0 0 #007aff"><span class="cw" style="width:42.66px;font-size:19.5px;"><i style="transform:scaleX(0.82)">Trade</i></span></div>
</div>
</body></html>
